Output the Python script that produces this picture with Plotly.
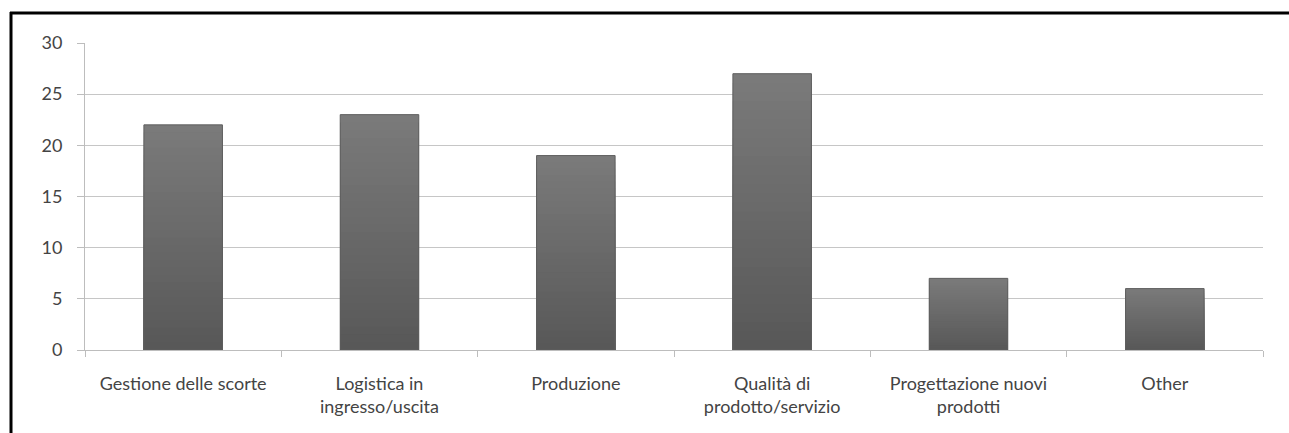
import plotly.graph_objects as go

categories = ["Gestione delle scorte", "Logistica in<br>ingresso/uscita", "Produzione",
              "Qualità di<br>prodotto/servizio", "Progettazione nuovi<br>prodotti", "Other"]
values = [22, 23, 19, 27, 7, 6]
y_ticks = [0, 5, 10, 15, 20, 25, 30]

W, H = 1289, 433
L, R, T, B = 85, 1263, 43, 350

fig = go.Figure()

# gradient fill: overlapping bars, tallest (lightest top) first, darker shorter ones on top
N = 30
top_c = (0x7a, 0x7a, 0x7a)
bot_c = (0x58, 0x58, 0x58)
for k in range(N):
    frac = (N - k) / N
    f = (N - k - 1) / (N - 1)
    c = tuple(round(bot_c[i] + (top_c[i] - bot_c[i]) * f) for i in range(3))
    fig.add_trace(go.Bar(
        x=categories,
        y=[v * frac for v in values],
        marker=dict(color="rgb(%d,%d,%d)" % c, line=dict(width=0)),
        width=0.4,
        showlegend=False,
        hoverinfo="skip",
    ))

# thin outline
fig.add_trace(go.Bar(
    x=categories, y=values, width=0.4,
    marker=dict(color="rgba(0,0,0,0)", line=dict(color="#5e5e5e", width=1)),
    showlegend=False,
))

fig.update_layout(
    width=W, height=H,
    margin=dict(l=L, r=W - R, t=T, b=H - B, pad=0),
    paper_bgcolor="white", plot_bgcolor="white",
    barmode="overlay",
    font=dict(family="Lato, Open Sans, sans-serif", size=18, color="#444444"),
    xaxis=dict(
        showgrid=False, showline=True, linecolor="#bdbdbd", linewidth=1,
        ticks="outside", tickson="boundaries", ticklen=6, tickcolor="#bdbdbd",
        tickfont=dict(size=18, color="#444444"),
        ticklabelstandoff=17,
    ),
    yaxis=dict(
        range=[0, 30], tickvals=y_ticks, showgrid=True, gridcolor="#c6c6c6", gridwidth=1,
        showline=True, linecolor="#bdbdbd", linewidth=1,
        ticks="outside", ticklen=7, tickcolor="#bdbdbd",
        tickfont=dict(size=18, color="#444444"),
        ticklabelstandoff=11, zeroline=False,
    ),
    shapes=[
        dict(type="line", xref="paper", yref="paper",
             x0=(10 - L) / (R - L), x1=(W + 5 - L) / (R - L),
             y0=(B - 13) / (B - T), y1=(B - 13) / (B - T),
             line=dict(color="black", width=3)),
        dict(type="line", xref="paper", yref="paper",
             x0=(11 - L) / (R - L), x1=(11 - L) / (R - L),
             y0=(B - 12) / (B - T), y1=(B - H - 5) / (B - T),
             line=dict(color="black", width=3)),
    ],
)

fig.write_html("out.html")
